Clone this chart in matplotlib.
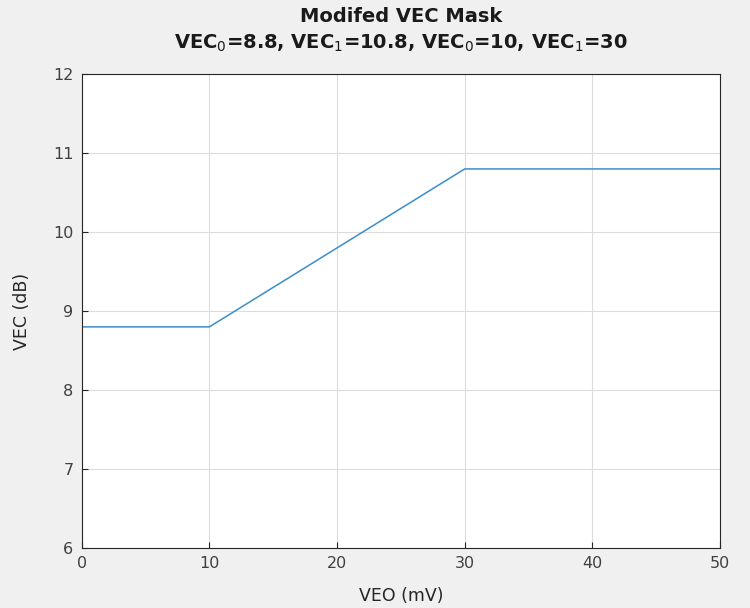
import matplotlib
matplotlib.use("Agg")
import matplotlib.pyplot as plt

# Mask breakpoints
veo_mv = [0, 10, 30, 50]
vec_db = [8.8, 8.8, 10.8, 10.8]

x_ticks = [0, 10, 20, 30, 40, 50]
y_ticks = [6, 7, 8, 9, 10, 11, 12]

plt.rcParams['font.family'] = ['DejaVu Sans']

fig = plt.figure(figsize=(7.5, 6.08), dpi=100, facecolor='#f0f0f0')
ax = fig.add_axes([0.109, 0.0987, 0.851, 0.7793])
ax.set_facecolor('white')

ax.plot(veo_mv, vec_db, color='#3b8dca', linewidth=1.1)

ax.set_xlim(0, 50)
ax.set_ylim(6, 12)
ax.set_xticks(x_ticks)
ax.set_yticks(y_ticks)
ax.grid(True, color='#dcdcdc', linewidth=0.8)
ax.set_axisbelow(True)

for s in ax.spines.values():
    s.set_color('#262626')
    s.set_linewidth(0.8)
ax.tick_params(direction='in', length=4, colors='#262626', labelsize=11.5,
               top=False, right=False, pad=6)
for lbl in ax.get_xticklabels() + ax.get_yticklabels():
    lbl.set_color('#404040')

ax.set_xlabel('VEO (mV)', fontsize=12.5, color='#262626', labelpad=11)
ax.set_ylabel('VEC (dB)', fontsize=12.5, color='#262626', labelpad=16)
ax.set_title('Modifed VEC Mask\n'
             r'VEC$_0$=8.8, VEC$_1$=10.8, VEC$_0$=10, VEC$_1$=30',
             fontsize=14, fontweight='bold', color='#1a1a1a', pad=18,
             linespacing=1.45)

fig.savefig('out.png', dpi=100, facecolor=fig.get_facecolor())
